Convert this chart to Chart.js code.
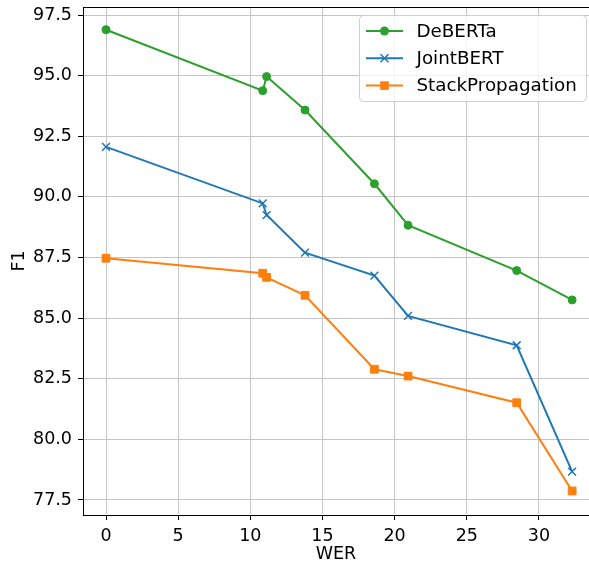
<!DOCTYPE html>
<html>
<head>
<meta charset="utf-8">
<script src="https://cdn.jsdelivr.net/npm/chart.js@4.4.0/dist/chart.umd.min.js"></script>
<style>
	html, body { margin: 0; padding: 0; background: #fff; }
</style>
</head>
<body>
<canvas id="chart" width="589" height="565"></canvas>
<script>
	const wer = [0, 10.86, 11.13, 13.79, 18.6, 20.93, 28.46, 32.3];
	const debertaF1 = [96.89, 94.38, 94.96, 93.58, 90.54, 88.83, 86.96, 85.75];
	const jointBertF1 = [92.06, 89.73, 89.25, 87.70, 86.75, 85.09, 83.88, 78.67];
	const stackPropF1 = [87.47, 86.85, 86.68, 85.94, 82.89, 82.61, 81.51, 77.87];
	const xTicks = [0, 5, 10, 15, 20, 25, 30];
	const yTicks = [77.5, 80, 82.5, 85, 87.5, 90, 92.5, 95, 97.5];

	Chart.defaults.font.family = "'DejaVu Sans', sans-serif";
	Chart.defaults.font.size = 17.5;
	Chart.defaults.color = '#000';

	function toPoints (values) {
		return wer.map((x, i) => ({x: x, y: values[i]}));
	}

	const series = [
		{label: 'DeBERTa', values: debertaF1, color: '#2ca02c', style: 'circle', radius: 4, border: 1},
		{label: 'JointBERT', values: jointBertF1, color: '#1f77b4', style: 'crossRot', radius: 5.5, border: 1.5},
		{label: 'StackPropagation', values: stackPropF1, color: '#ff7f0e', style: 'rect', radius: 5.5, border: 1},
	];

	function drawMarker (ctx, s, x, y) {
		ctx.fillStyle = s.color;
		ctx.strokeStyle = s.color;
		if (s.style === 'circle') {
			ctx.beginPath();
			ctx.arc(x, y, 4.5, 0, Math.PI * 2);
			ctx.fill();
		} else if (s.style === 'rect') {
			ctx.fillRect(x - 4.3, y - 4.3, 8.6, 8.6);
		} else {
			const d = 4;
			ctx.lineWidth = 1.5;
			ctx.beginPath();
			ctx.moveTo(x - d, y - d); ctx.lineTo(x + d, y + d);
			ctx.moveTo(x + d, y - d); ctx.lineTo(x - d, y + d);
			ctx.stroke();
		}
	}

	const frameAndLegend = {
		id: 'frameAndLegend',
		afterDatasetsDraw(chart) {
			const {ctx, chartArea: a} = chart;
			ctx.save();
			// top spine
			ctx.strokeStyle = '#000';
			ctx.lineWidth = 1;
			ctx.beginPath();
			ctx.moveTo(a.left, a.top + 0.5);
			ctx.lineTo(a.right, a.top + 0.5);
			ctx.stroke();

			// legend box
			const bx = 359.5, by = 15.5, bw = 227, bh = 86;
			ctx.beginPath();
			ctx.roundRect(bx, by, bw, bh, 4);
			ctx.fillStyle = 'rgba(255,255,255,0.8)';
			ctx.fill();
			ctx.strokeStyle = '#d0d0d0';
			ctx.lineWidth = 1;
			ctx.stroke();

			ctx.font = "18.3px 'DejaVu Sans', sans-serif";
			ctx.textBaseline = 'middle';
			series.forEach((s, i) => {
				const y = 31 + i * 27.3;
				ctx.strokeStyle = s.color;
				ctx.lineWidth = 2;
				ctx.beginPath();
				ctx.moveTo(366, y);
				ctx.lineTo(403, y);
				ctx.stroke();
				drawMarker(ctx, s, 384.5, y);
				ctx.fillStyle = '#000';
				ctx.fillText(s.label, 416.5, y + 1);
			});
			ctx.restore();
		}
	};

	function noPadding (scale) {
		scale.paddingTop = 0;
		scale.paddingBottom = 0;
		scale.paddingLeft = 0;
		scale.paddingRight = 0;
	}

	const gridOptions = {
		color: '#c4c4c4',
		lineWidth: 1,
		tickColor: '#000',
		tickLength: 5,
		drawTicks: true,
	};

	new Chart(document.getElementById('chart'), {
		type: 'line',
		data: {
			datasets: series.map(s => ({
				label: s.label,
				data: toPoints(s.values),
				borderColor: s.color,
				backgroundColor: s.color,
				borderWidth: 2,
				pointStyle: s.style,
				pointRadius: s.radius,
				pointBorderWidth: s.border,
				pointBorderColor: s.color,
				pointBackgroundColor: s.color,
				tension: 0,
				fill: false,
				clip: false,
			}))
		},
		options: {
			responsive: false,
			animation: false,
			layout: {
				autoPadding: false,
				padding: {top: 7, right: 0, bottom: 0, left: 0}
			},
			plugins: {
				legend: {display: false},
				tooltip: {enabled: false},
			},
			scales: {
				x: {
					type: 'linear',
					min: -1.594,
					max: 33.47,
					afterBuildTicks: scale => { scale.ticks = xTicks.map(v => ({value: v})); },
					afterFit: scale => { scale.height = 50; noPadding(scale); },
					grid: gridOptions,
					border: {display: true, color: '#000', width: 1},
					ticks: {
						autoSkip: false,
						maxRotation: 0,
						padding: 6,
						callback: v => String(v),
					},
					title: {
						display: true,
						text: 'WER',
						padding: {top: 0, bottom: 0},
					},
				},
				y: {
					type: 'linear',
					min: 76.88,
					max: 97.83,
					afterBuildTicks: scale => { scale.ticks = yTicks.map(v => ({value: v})); },
					afterFit: scale => { scale.width = 83; noPadding(scale); },
					grid: gridOptions,
					border: {display: true, color: '#000', width: 1},
					ticks: {
						autoSkip: false,
						padding: 6,
						callback: v => Number(v).toFixed(1),
					},
					title: {
						display: true,
						text: 'F1',
						padding: {top: 9, bottom: 0},
					},
				},
			},
		},
		plugins: [frameAndLegend],
	});
</script>
</body>
</html>
